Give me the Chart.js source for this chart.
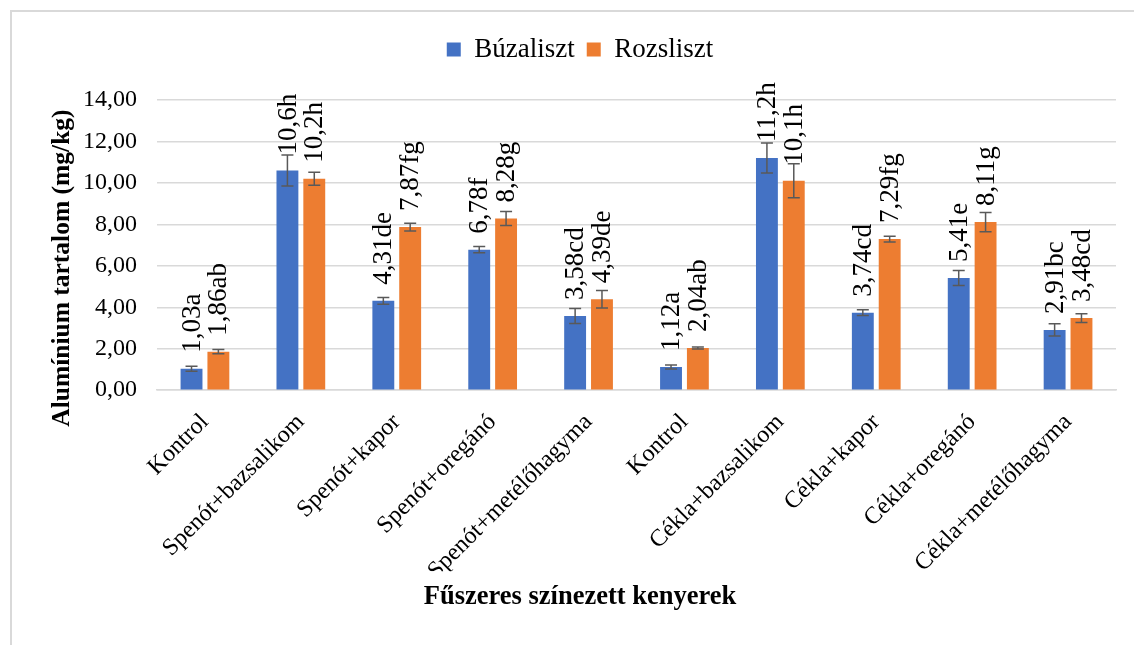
<!DOCTYPE html>
<html>
<head>
<meta charset="utf-8">
<script src="https://cdn.jsdelivr.net/npm/chart.js@4"></script>
<style>
  body { margin: 0; background: #fff; }
  #wrap { position: relative; width: 1134px; height: 645px; }
  #frame { position: absolute; left: 10px; top: 10px; width: 1140px; height: 660px;
           border-left: 2px solid #d9d9d9; border-top: 2px solid #d9d9d9; box-sizing: border-box; }
  canvas { position: absolute; left: 0; top: 0; }
</style>
</head>
<body>
<div id="wrap">
  <div id="frame"></div>
  <canvas id="aluChart" width="1134" height="645"></canvas>
</div>
<script>
const categories = ['Kontrol', 'Spenót+bazsalikom', 'Spenót+kapor', 'Spenót+oregánó', 'Spenót+metélőhagyma',
                    'Kontrol', 'Cékla+bazsalikom', 'Cékla+kapor', 'Cékla+oregánó', 'Cékla+metélőhagyma'];

const buzaValues = [1.03, 10.6, 4.31, 6.78, 3.58, 1.12, 11.2, 3.74, 5.41, 2.91];
const rozsValues = [1.86, 10.2, 7.87, 8.28, 4.39, 2.04, 10.1, 7.29, 8.11, 3.48];

// +/- error bar half-lengths
const buzaErrors = [0.12, 0.75, 0.16, 0.15, 0.36, 0.10, 0.72, 0.14, 0.36, 0.30];
const rozsErrors = [0.10, 0.31, 0.19, 0.34, 0.42, 0.05, 0.82, 0.14, 0.46, 0.21];

// letters of significance next to the values
const buzaLabels = ['1,03a', '10,6h', '4,31de', '6,78f', '3,58cd', '1,12a', '11,2h', '3,74cd', '5,41e', '2,91bc'];
const rozsLabels = ['1,86ab', '10,2h', '7,87fg', '8,28g', '4,39de', '2,04ab', '10,1h', '7,29fg', '8,11g', '3,48cd'];

const yTicks = [0, 2, 4, 6, 8, 10, 12, 14];
const yTitle = 'Alumínium tartalom (mg/kg)';

const SERIF = "'Liberation Serif', 'Times New Roman', serif";

// error bars + rotated value labels on top of each bar
const barExtras = {
    id: 'barExtras',
    afterDatasetsDraw(chart) {
        const ctx = chart.ctx;
        const yScale = chart.scales.y;
        chart.data.datasets.forEach((ds, di) => {
            const meta = chart.getDatasetMeta(di);
            meta.data.forEach((bar, i) => {
                const v = ds.data[i];
                const err = ds.errors[i];
                const yHi = yScale.getPixelForValue(v + err);
                const yLo = yScale.getPixelForValue(v - err);
                ctx.save();
                ctx.strokeStyle = '#595959';
                ctx.lineWidth = 1.5;
                ctx.beginPath();
                ctx.moveTo(bar.x, yHi); ctx.lineTo(bar.x, yLo);
                ctx.moveTo(bar.x - 6, yHi); ctx.lineTo(bar.x + 6, yHi);
                ctx.moveTo(bar.x - 6, yLo); ctx.lineTo(bar.x + 6, yLo);
                ctx.stroke();

                ctx.translate(bar.x + 1, bar.y - 16);
                ctx.rotate(-Math.PI / 2);
                ctx.font = '27px ' + SERIF;
                ctx.fillStyle = '#000';
                ctx.textAlign = 'left';
                ctx.textBaseline = 'middle';
                ctx.fillText(ds.valueLabels[i], 0, 0);
                ctx.restore();
            });
        });
    }
};

// y-axis title, sitting a bit lower than the plot centre like in the original
const yAxisTitle = {
    id: 'yAxisTitle',
    afterDraw(chart) {
        const ctx = chart.ctx;
        const area = chart.chartArea;
        ctx.save();
        ctx.translate(chart.scales.y.left + 18, (area.top + area.bottom) / 2 + 23);
        ctx.rotate(-Math.PI / 2);
        ctx.font = 'bold 25.5px ' + SERIF;
        ctx.fillStyle = '#000';
        ctx.textAlign = 'center';
        ctx.textBaseline = 'middle';
        ctx.fillText(yTitle, 0, 0);
        ctx.restore();
    }
};

// push the plot down below the legend
const legendGap = {
    id: 'legendGap',
    beforeInit(chart) {
        const origFit = chart.legend.fit;
        chart.legend.fit = function () {
            origFit.bind(chart.legend)();
            this.height += 27;
        };
    }
};

new Chart(document.getElementById('aluChart'), {
    type: 'bar',
    data: {
        labels: categories,
        datasets: [{
            label: 'Búzaliszt',
            data: buzaValues,
            errors: buzaErrors,
            valueLabels: buzaLabels,
            backgroundColor: '#4472C4',
            categoryPercentage: 0.56,
            barPercentage: 0.815
        }, {
            label: 'Rozsliszt',
            data: rozsValues,
            errors: rozsErrors,
            valueLabels: rozsLabels,
            backgroundColor: '#ED7D31',
            categoryPercentage: 0.56,
            barPercentage: 0.815
        }]
    },
    options: {
        responsive: false,
        devicePixelRatio: 1,
        animation: false,
        layout: { padding: { left: 44, right: 18, top: 24, bottom: 22 } },
        scales: {
            x: {
                grid: { display: false },
                border: { display: true, color: '#d9d9d9', width: 1.5 },
                ticks: {
                    font: { family: SERIF, size: 24 },
                    color: '#000',
                    maxRotation: 45,
                    minRotation: 45,
                    padding: 10
                },
                afterFit(scale) { scale.height = 181; }
            },
            y: {
                min: 0,
                max: 14,
                grid: { color: '#d9d9d9', lineWidth: 1.5, drawTicks: false },
                border: { display: false },
                afterBuildTicks(scale) { scale.ticks = yTicks.map(v => ({ value: v })); },
                ticks: {
                    font: { family: SERIF, size: 24 },
                    color: '#000',
                    padding: 20,
                    callback: (value) => value.toFixed(2).replace('.', ',')
                },
                afterFit(scale) { scale.width = 113; }
            }
        },
        plugins: {
            legend: {
                display: true,
                position: 'top',
                labels: {
                    boxWidth: 14,
                    boxHeight: 14,
                    padding: 12,
                    color: '#000',
                    font: { family: SERIF, size: 27 }
                }
            },
            // x-axis title, centred on the whole chart like the original
            title: {
                display: true,
                position: 'bottom',
                text: 'Fűszeres színezett kenyerek',
                color: '#000',
                font: { family: SERIF, size: 26.5, weight: 'bold' },
                padding: 10
            },
            tooltip: { enabled: false }
        }
    },
    plugins: [barExtras, yAxisTitle, legendGap]
});
</script>
</body>
</html>
